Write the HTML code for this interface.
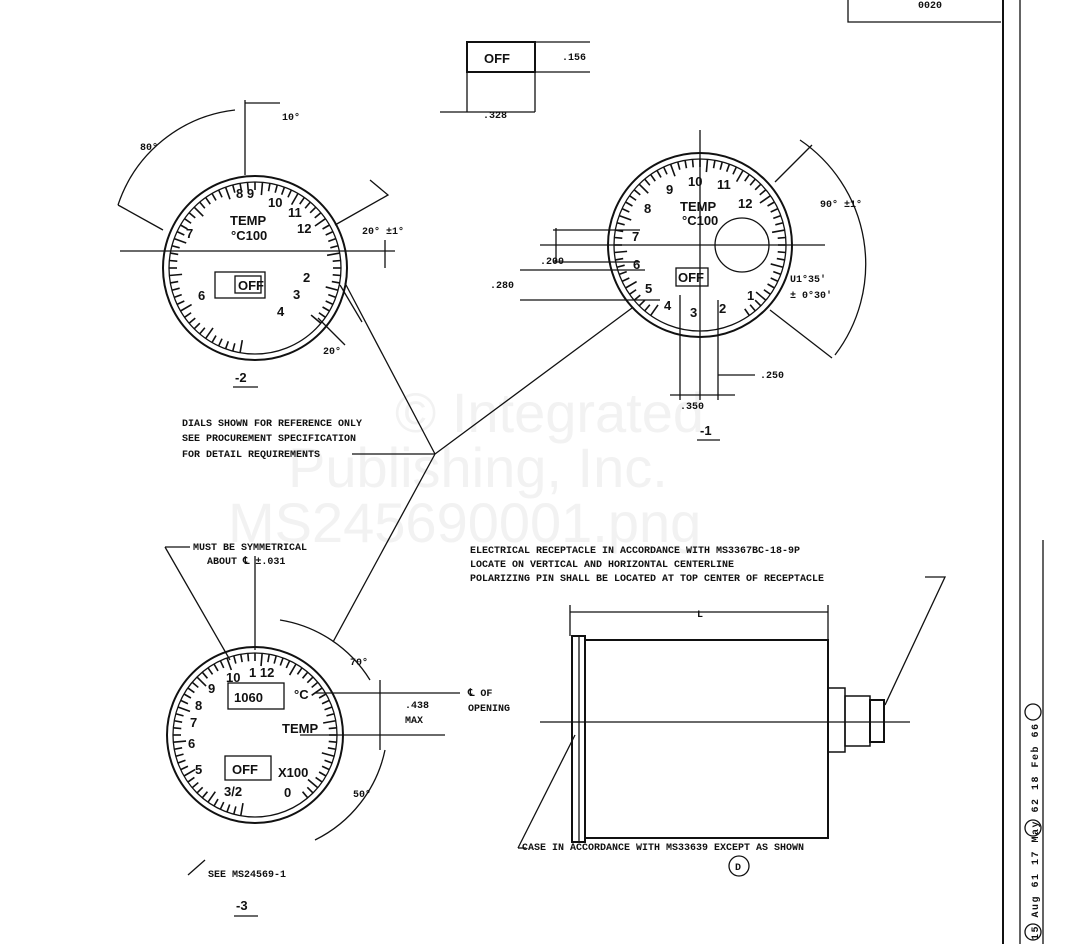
<!DOCTYPE html>
<html><head><meta charset="utf-8"><style>
html,body{margin:0;padding:0;background:#fff;}
svg{display:block;font-family:"Liberation Mono",monospace;}
.t{font-size:10px;font-weight:bold;fill:#111;}
.n{font-size:13px;font-weight:bold;fill:#111;font-family:"Liberation Sans",sans-serif;}
.wm{font-family:"Liberation Sans",sans-serif;font-size:56px;fill:#f2f2f2;}
</style></head><body>
<svg id="s" width="1089" height="944" viewBox="0 0 1089 944" stroke="#111" fill="none" stroke-width="1.3">
<text class="wm" x="395" y="432" stroke="none">© Integrated</text>
<text class="wm" x="288" y="487" stroke="none">Publishing, Inc.</text>
<text class="wm" x="228" y="542" stroke="none">MS245690001.png</text>

<polyline points="848,0 848,22 1001,22"/>
<text class="t" x="918" y="8" stroke="none">0020</text>
<line x1="1003" y1="0" x2="1003" y2="944" stroke-width="2"/>
<line x1="1020" y1="0" x2="1020" y2="944"/>
<line x1="1043" y1="540" x2="1043" y2="944"/>
<text class="t" transform="translate(1038,940) rotate(-90)" stroke="none" font-size="11" letter-spacing="1.5">  15 Aug 61    17 May 62    18 Feb 66</text>
<circle cx="1033" cy="932" r="8"/><circle cx="1033" cy="828" r="8"/><circle cx="1033" cy="712" r="8"/>

<rect x="467" y="42" width="68" height="30" stroke-width="2"/>
<text class="n" x="484" y="63" stroke="none">OFF</text>
<line x1="535" y1="42" x2="590" y2="42"/><line x1="535" y1="72" x2="590" y2="72"/>
<text class="t" x="562" y="60" stroke="none">.156</text>
<line x1="467" y1="72" x2="467" y2="112"/><line x1="535" y1="72" x2="535" y2="112"/>
<line x1="440" y1="112" x2="535" y2="112"/>
<text class="t" x="483" y="118" stroke="none">.328</text>

<circle cx="255" cy="268" r="92" stroke-width="2"/>
<circle cx="255" cy="268" r="86"/>
<text class="n" x="236" y="198" stroke="none">8 9</text>
<text class="n" x="268" y="207" stroke="none">10</text>
<text class="n" x="288" y="217" stroke="none">11</text>
<text class="n" x="297" y="233" stroke="none">12</text>
<text class="n" x="186" y="238" stroke="none">7</text>
<text class="n" x="230" y="225" stroke="none">TEMP</text>
<text class="n" x="231" y="240" stroke="none">°C100</text>
<text class="n" x="303" y="282" stroke="none">2</text>
<text class="n" x="293" y="299" stroke="none">3</text>
<text class="n" x="277" y="316" stroke="none">4</text>
<text class="n" x="198" y="300" stroke="none">6</text>
<rect x="215" y="272" width="50" height="26"/><rect x="235" y="276" width="26" height="17"/>
<text class="n" x="238" y="290" stroke="none">OFF</text>
<line x1="120" y1="251" x2="395" y2="251"/>
<line x1="245" y1="100" x2="245" y2="175"/><line x1="245" y1="103" x2="280" y2="103"/>
<text class="t" x="282" y="120" stroke="none">10°</text>
<path d="M118,205 A140,140 0 0 1 235,110"/>
<text class="t" x="140" y="150" stroke="none">80°</text>
<line x1="118" y1="205" x2="163" y2="230"/>
<path d="M370,180 L388,195 L335,225"/>
<text class="t" x="362" y="234" stroke="none">20° ±1°</text>
<line x1="385" y1="240" x2="385" y2="268"/>
<line x1="340" y1="285" x2="362" y2="322"/><line x1="318" y1="318" x2="345" y2="345"/>
<text class="t" x="323" y="354" stroke="none">20°</text>
<text class="n" x="235" y="382" stroke="none">-2</text><line x1="233" y1="387" x2="258" y2="387"/>

<circle cx="700" cy="245" r="92" stroke-width="2"/>
<circle cx="700" cy="245" r="86"/>
<text class="n" x="666" y="194" stroke="none">9</text>
<text class="n" x="688" y="186" stroke="none">10</text>
<text class="n" x="717" y="189" stroke="none">11</text>
<text class="n" x="738" y="208" stroke="none">12</text>
<text class="n" x="644" y="213" stroke="none">8</text>
<text class="n" x="632" y="241" stroke="none">7</text>
<text class="n" x="633" y="269" stroke="none">6</text>
<text class="n" x="645" y="293" stroke="none">5</text>
<text class="n" x="664" y="310" stroke="none">4</text>
<text class="n" x="690" y="317" stroke="none">3</text>
<text class="n" x="719" y="313" stroke="none">2</text>
<text class="n" x="747" y="300" stroke="none">1</text>
<text class="n" x="680" y="211" stroke="none">TEMP</text>
<text class="n" x="682" y="225" stroke="none">°C100</text>
<circle cx="742" cy="245" r="27"/>
<rect x="676" y="268" width="32" height="18"/>
<text class="n" x="678" y="282" stroke="none">OFF</text>
<line x1="540" y1="245" x2="825" y2="245"/>
<line x1="700" y1="130" x2="700" y2="400"/>
<line x1="553" y1="230" x2="640" y2="230"/><line x1="553" y1="262" x2="640" y2="262"/>
<line x1="556" y1="228" x2="556" y2="262"/>
<text class="t" x="540" y="264" stroke="none">.200</text>
<line x1="520" y1="270" x2="645" y2="270"/><line x1="520" y1="300" x2="660" y2="300"/>
<text class="t" x="490" y="288" stroke="none">.280</text>
<line x1="680" y1="295" x2="680" y2="400"/><line x1="718" y1="300" x2="718" y2="400"/>
<line x1="718" y1="375" x2="755" y2="375"/>
<text class="t" x="760" y="378" stroke="none">.250</text>
<line x1="670" y1="395" x2="735" y2="395"/>
<text class="t" x="680" y="409" stroke="none">.350</text>
<path d="M800,140 A150,150 0 0 1 835,355"/>
<line x1="775" y1="182" x2="812" y2="145"/>
<text class="t" x="820" y="207" stroke="none">90° ±1°</text>
<text class="t" x="790" y="282" stroke="none">U1°35'</text>
<text class="t" x="790" y="298" stroke="none">± 0°30'</text>
<line x1="770" y1="310" x2="832" y2="358"/>
<text class="n" x="700" y="435" stroke="none">-1</text><line x1="697" y1="440" x2="720" y2="440"/>

<text class="t" x="182" y="426" stroke="none">DIALS SHOWN FOR REFERENCE ONLY</text>
<text class="t" x="182" y="441" stroke="none">SEE PROCUREMENT SPECIFICATION</text>
<text class="t" x="182" y="457" stroke="none">FOR DETAIL REQUIREMENTS</text>
<line x1="352" y1="454" x2="435" y2="454"/>
<line x1="435" y1="454" x2="345" y2="283"/>
<line x1="435" y1="454" x2="632" y2="308"/>
<line x1="435" y1="454" x2="333" y2="642"/>

<circle cx="255" cy="735" r="88" stroke-width="2"/>
<circle cx="255" cy="735" r="82"/>
<text class="n" x="226" y="682" stroke="none">10</text>
<text class="n" x="249" y="677" stroke="none">1 12</text>
<text class="n" x="208" y="693" stroke="none">9</text>
<text class="n" x="195" y="710" stroke="none">8</text>
<text class="n" x="190" y="727" stroke="none">7</text>
<text class="n" x="188" y="748" stroke="none">6</text>
<text class="n" x="195" y="774" stroke="none">5</text>
<text class="n" x="224" y="796" stroke="none">3/2</text>
<text class="n" x="284" y="797" stroke="none">0</text>
<rect x="228" y="683" width="56" height="26"/>
<text class="n" x="234" y="702" stroke="none">1060</text>
<text class="n" x="294" y="699" stroke="none">°C</text>
<text class="n" x="282" y="733" stroke="none">TEMP</text>
<rect x="225" y="756" width="46" height="24"/>
<text class="n" x="232" y="774" stroke="none">OFF</text>
<text class="n" x="278" y="777" stroke="none">X100</text>
<line x1="315" y1="693" x2="460" y2="693"/><line x1="300" y1="735" x2="445" y2="735"/>
<line x1="380" y1="680" x2="380" y2="750"/>
<text class="t" x="405" y="708" stroke="none">.438</text>
<text class="t" x="405" y="723" stroke="none">MAX</text>
<text class="t" x="468" y="696" stroke="none">℄ OF</text>
<text class="t" x="468" y="711" stroke="none">OPENING</text>
<path d="M280,620 A130,130 0 0 1 370,680"/>
<path d="M385,750 A130,130 0 0 1 315,840"/>
<text class="t" x="350" y="665" stroke="none">70°</text>
<text class="t" x="353" y="797" stroke="none">50°</text>
<text class="t" x="193" y="550" stroke="none">MUST BE SYMMETRICAL</text>
<text class="t" x="207" y="564" stroke="none">ABOUT ℄ ±.031</text>
<line x1="165" y1="547" x2="230" y2="660"/><line x1="165" y1="547" x2="190" y2="547"/>
<line x1="255" y1="556" x2="255" y2="650"/>
<line x1="188" y1="875" x2="205" y2="860"/>
<text class="t" x="208" y="877" stroke="none">SEE MS24569-1</text>
<text class="n" x="236" y="910" stroke="none">-3</text><line x1="234" y1="916" x2="258" y2="916"/>

<text class="t" x="470" y="553" stroke="none">ELECTRICAL RECEPTACLE IN ACCORDANCE WITH MS3367BC-18-9P</text>
<text class="t" x="470" y="567" stroke="none">LOCATE ON VERTICAL AND HORIZONTAL CENTERLINE</text>
<text class="t" x="470" y="581" stroke="none">POLARIZING PIN SHALL BE LOCATED AT TOP CENTER OF RECEPTACLE</text>
<polyline points="925,577 945,577 885,705"/>
<line x1="570" y1="612" x2="828" y2="612"/>
<line x1="570" y1="605" x2="570" y2="636"/><line x1="828" y1="605" x2="828" y2="640"/>
<text class="t" x="697" y="617" stroke="none">L</text>
<rect x="572" y="636" width="13" height="206" stroke-width="2"/>
<line x1="579" y1="636" x2="579" y2="842"/>
<rect x="585" y="640" width="243" height="198" stroke-width="2"/>
<rect x="828" y="688" width="17" height="64" stroke-width="1.5"/>
<rect x="845" y="696" width="25" height="50" stroke-width="1.5"/>
<rect x="870" y="700" width="14" height="42" stroke-width="2"/>
<line x1="540" y1="722" x2="910" y2="722"/>
<line x1="518" y1="848" x2="575" y2="735"/><line x1="518" y1="848" x2="526" y2="848"/>
<text class="t" x="522" y="850" stroke="none">CASE IN ACCORDANCE WITH MS33639 EXCEPT AS SHOWN</text>
<circle cx="739" cy="866" r="10"/>
<text class="t" x="735" y="870" stroke="none">D</text>
</svg>
<script>
var s=document.getElementById('s');
function ticks(cx,cy,r,a0,a1,n,len){for(var i=0;i<=n;i++){var a=(a0+(a1-a0)*i/n)*Math.PI/180;var l=(i%5==0)?len*1.6:len;var e=document.createElementNS('http://www.w3.org/2000/svg','line');e.setAttribute('x1',cx+r*Math.cos(a));e.setAttribute('y1',cy+r*Math.sin(a));e.setAttribute('x2',cx+(r-l)*Math.cos(a));e.setAttribute('y2',cy+(r-l)*Math.sin(a));e.setAttribute('stroke-width','1.6');s.appendChild(e);}}
ticks(255,268,86,-260,40,60,8);
ticks(700,245,86,-235,55,58,8);
ticks(255,735,82,-260,50,62,8);
</script>
</body></html>
